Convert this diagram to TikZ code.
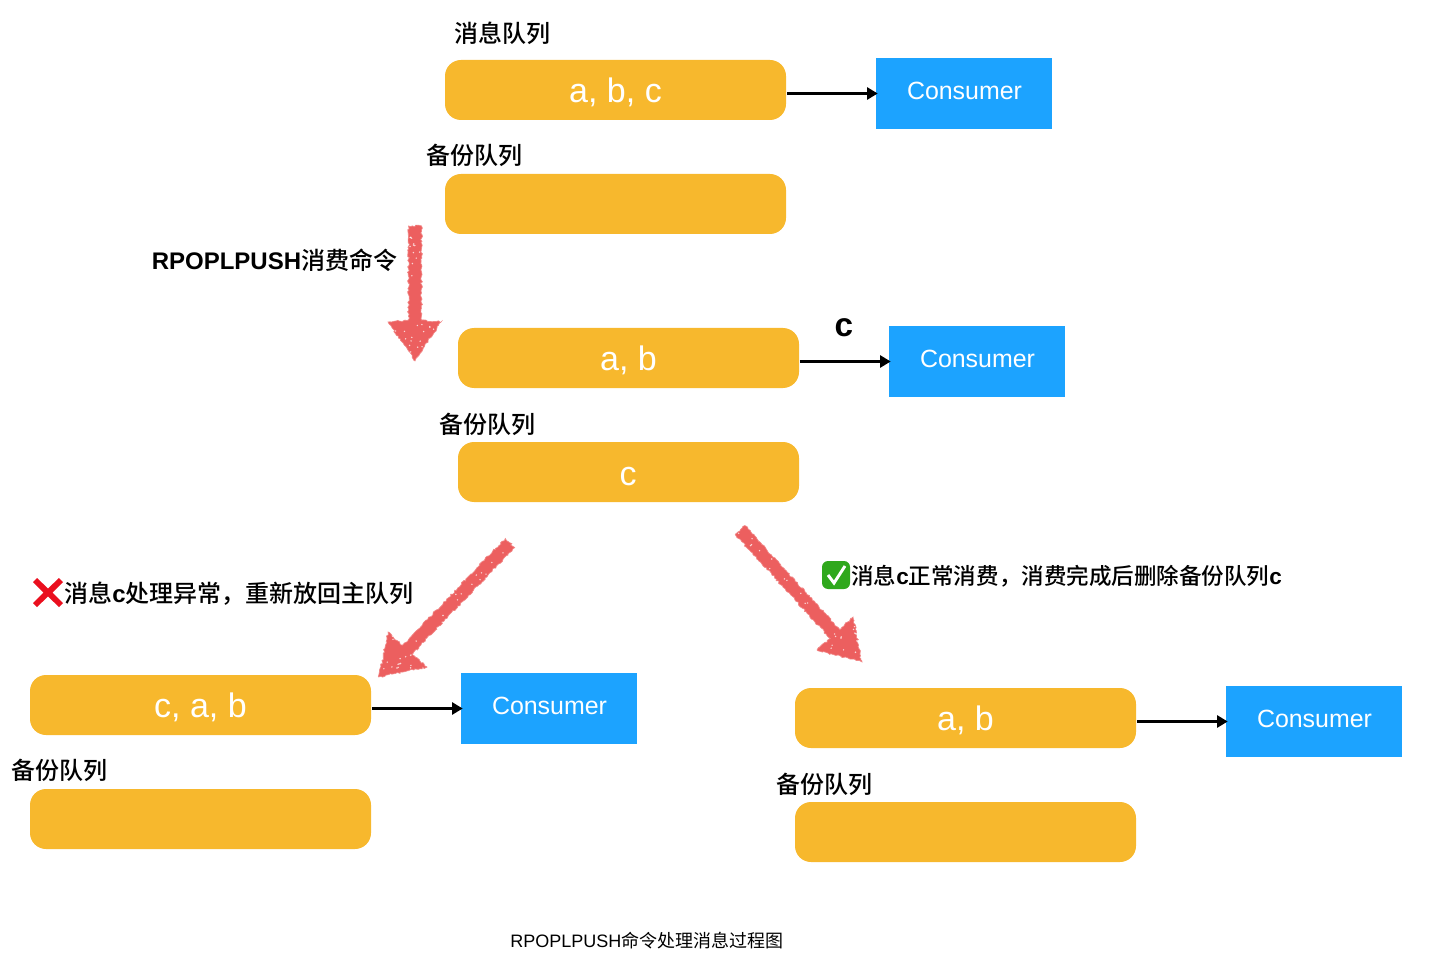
\documentclass[tikz,border=0pt]{standalone}
\usepackage{fontspec}
\setmainfont{Liberation Sans}
\newfontfamily\cjk{Noto Sans CJK SC}[BoldFont={Noto Sans CJK SC Medium}]
\usetikzlibrary{arrows.meta,decorations.pathmorphing}
\definecolor{qorange}{HTML}{F7B82D}
\definecolor{cblue}{HTML}{1CA3FF}
\definecolor{skred}{HTML}{EC5F5F}
\definecolor{xred}{HTML}{EA0F1E}
\definecolor{okgreen}{HTML}{2FA81C}
\newcommand{\zh}[1]{{\cjk #1}}
\newcommand{\specks}[7]{\foreach \i in {1,...,#7}{%
  \pgfmathsetmacro\ra{rnd}\pgfmathsetmacro\rb{rnd}\pgfmathsetmacro\rs{sqrt(\ra)}%
  \pgfmathsetmacro\px{(1-\rs)*#1+\rs*(1-\rb)*#3+\rs*\rb*#5}%
  \pgfmathsetmacro\py{(1-\rs)*#2+\rs*(1-\rb)*#4+\rs*\rb*#6}%
  \fill[white,opacity=.75] (\px,\py) circle[radius=.8];}}
\tikzset{
  queuebox/.style={fill=qorange,rounded corners=12pt,minimum width=255.75pt,minimum height=45pt,inner sep=0pt,text=white},
  qtext/.style={inner sep=0pt,text=white,font=\fontsize{25.5}{26}\selectfont},
  consumer/.style={fill=cblue,minimum width=132pt,minimum height=53.25pt,inner sep=0pt},
  ctext/.style={inner sep=0pt,text=white,font=\fontsize{18.7}{19}\selectfont},
  lbl/.style={anchor=west,inner sep=0pt,font=\fontsize{18}{18}\selectfont\bfseries},
  flow/.style={draw=black,line width=1.9pt,-{Triangle[length=8pt,width=9pt]},shorten <=.5pt,shorten >=-1.5pt},
  sketch/.style={fill=skred,draw=skred!75,line width=.5pt,decorate,decoration={random steps,segment length=1.4pt,amplitude=.75pt}},
}
\begin{document}
\begin{tikzpicture}[x=.75pt,y=-.75pt]
\pgfmathsetseed{42}
\useasboundingbox (0,0) rectangle (1434,962);
% row 1
\node[lbl] (t1) at (454,33) {\zh{消息队列}};
\node[queuebox] (q1) at (615.5,90) {};
\node[qtext] (q1t) at (615.5,92) {a, b, c};
\node[consumer] (c1) at (964,93.5) {};
\node[ctext] (c1t) at (964.5,90.5) {Consumer};
\node[lbl] (t2) at (426,155) {\zh{备份队列}};
\node[queuebox] (b1) at (615.5,204) {};
\draw[flow] (q1.east |- c1.west) -- (c1.west);
% row 2
\node[lbl] (t3) at (151.5,260) {RPOPLPUSH\zh{消费命令}};
\node[queuebox] (q2) at (628.5,358) {};
\node[qtext] (q2t) at (628.5,360) {a, b};
\node[consumer] (c2) at (977,361.5) {};
\node[ctext] (c2t) at (977.5,358.5) {Consumer};
\node[anchor=center,inner sep=0pt,font=\fontsize{25}{25}\selectfont\bfseries] (cl) at (844,328) {c};
\node[lbl] (t4) at (439,424) {\zh{备份队列}};
\node[queuebox] (b2) at (628.5,472) {};
\node[qtext] (b2t) at (628,476.5) {c};
\draw[flow] (q2.east |- c2.west) -- (c2.west);
% row 3 left
\node[lbl] (t5) at (64,594) {\zh{消息}c\zh{处理异常，重新放回主队列}};
\node[queuebox] (q3) at (200.5,705) {};
\node[qtext] (q3t) at (200.5,707) {c, a, b};
\node[consumer] (c3) at (549,708.5) {};
\node[ctext] (c3t) at (549.5,705.5) {Consumer};
\node[lbl] (t6) at (11,770) {\zh{备份队列}};
\node[queuebox] (b3) at (200.5,819) {};
\draw[flow] (q3.east |- c3.west) -- (c3.west);
% row 3 right
\node[lbl,font=\fontsize{16.9}{18}\selectfont\bfseries] (t7) at (851,576) {\zh{消息}c\zh{正常消费，消费完成后删除备份队列}c};
\node[queuebox] (q4) at (965.5,718) {};
\node[qtext] (q4t) at (965.5,720) {a, b};
\node[consumer] (c4) at (1314,721.5) {};
\node[ctext] (c4t) at (1314.5,718.5) {Consumer};
\node[lbl] (t8) at (776,784) {\zh{备份队列}};
\node[queuebox] (b4) at (965.5,832) {};
\draw[flow] (q4.east |- c4.west) -- (c4.west);
% caption
\node[anchor=west,inner sep=0pt,font=\fontsize{13.5}{14}\selectfont] (cap) at (510,941) {RPOPLPUSH\zh{命令处理消息过程图}};
% red cross
\fill[xred] (33,582) -- (37,578) -- (48,588.5) -- (59,578) -- (63,582) -- (52.5,592.5) -- (63,603) -- (59,607) -- (48,596.5) -- (37,607) -- (33,603) -- (43.5,592.5) -- cycle;
% green tick
\fill[okgreen,rounded corners=4.5pt] (822,561) rectangle (850,589);
\draw[white,line width=2.2pt] (828,575) -- (834,583) -- (845,566);
% sketched arrows
\path[sketch] (408.5,226) -- (421.5,226) -- (421.5,320) -- (441,322) -- (415,361) -- (388,322) -- (408.5,320) -- cycle;
\specks{441}{322}{388}{322}{415}{361}{16}
\specks{408}{226}{422}{226}{415}{320}{12}
\path[sketch] (514.7,547.5) -- (505.3,538.5) -- (402.3,645.5) -- (388,632) -- (379,677) -- (427,667) -- (411.7,654.5) -- cycle;
\specks{388}{632}{427}{667}{379}{677}{16}
\specks{515}{547}{505}{538}{407}{650}{12}
\path[sketch] (735.2,534.4) -- (744.8,525.6) -- (839.8,629.6) -- (853,617) -- (862,662) -- (817,650) -- (830.2,638.4) -- cycle;
\specks{853}{617}{817}{650}{862}{662}{16}
\specks{735}{534}{745}{526}{835}{634}{12}
\end{tikzpicture}
\end{document}
